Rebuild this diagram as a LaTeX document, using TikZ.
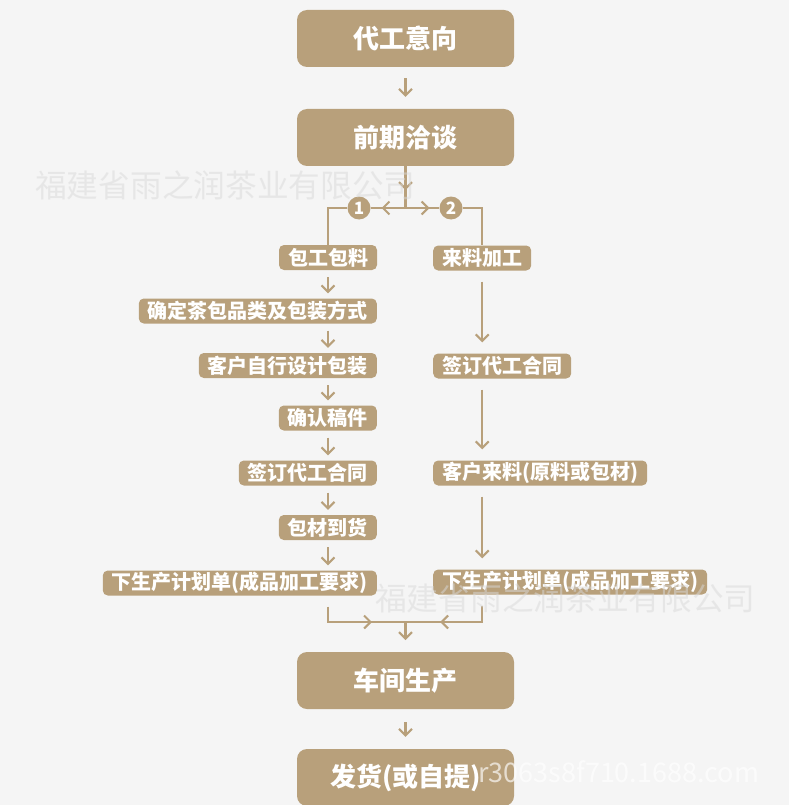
\documentclass[tikz,border=0pt]{standalone}
\usepackage{fontspec}
\setmainfont{Noto Sans CJK SC}
\usetikzlibrary{arrows.meta}

\definecolor{teabrown}{HTML}{B8A07B}
\definecolor{paper}{HTML}{F5F5F5}

\tikzset{
  bigbox/.style={fill=teabrown, rounded corners=10pt, minimum width=217pt,
    minimum height=57pt, inner sep=0pt, text=white,
    font=\bfseries\fontsize{26}{26}\selectfont},
  stepbox/.style={fill=teabrown, rounded corners=5pt, minimum height=25pt,
    inner xsep=9pt, inner ysep=0pt, text=white,
    font=\bfseries\fontsize{20}{20}\selectfont},
  numdot/.style={circle, fill=teabrown, minimum size=23pt, inner sep=0pt,
    text=white, font=\bfseries\fontsize{17}{17}\selectfont},
  flow/.style={draw=teabrown, line width=2.1pt},
  tip/.style={flow, -{Straight Barb[length=6.5pt, width=13pt]}},
  watermark/.style={text=gray!30, text opacity=0.5, inner sep=0pt,
    font=\fontsize{31.7}{31.7}\selectfont}
}

\begin{document}
\begin{tikzpicture}[x=1pt, y=-1pt]
  \useasboundingbox (0,0) rectangle (789,805);
  \fill[paper] (0,0) rectangle (789,805);

  % main steps
  \node[bigbox] (intent) at (405.5,38.5) {代工意向};
  \node[bigbox] (talk) at (405.5,137.5) {前期洽谈};
  \draw[tip, shorten <=11pt, shorten >=12pt] (intent) -- (talk);

  % split into the two ways
  \coordinate (split) at (405.5,208);
  \draw[flow] (talk.south) -- (split);
  \draw[tip] (talk.south) -- ++(0,24);
  \node[numdot] (n1) at (359,208) {1};
  \node[numdot] (n2) at (451,208) {2};
  \draw[flow] (n1) -- (n2);
  \draw[tip] (split) -- ++(-24,0);
  \draw[tip] (split) -- ++(24,0);

  % way 1
  \node[stepbox] (L1) at (328,257.5) {包工包料};
  \node[stepbox, anchor=east] (L2) at (377,311) {确定茶包品类及包装方式};
  \node[stepbox, anchor=east] (L3) at (377,365.5) {客户自行设计包装};
  \node[stepbox, anchor=east] (L4) at (377,418) {确认稿件};
  \node[stepbox, anchor=east] (L5) at (377,473) {签订代工合同};
  \node[stepbox, anchor=east] (L6) at (377,527.5) {包材到货};
  \node[stepbox, anchor=east] (L7) at (377,583) {下生产计划单(成品加工要求)};
  \draw[flow] (n1) -| (L1.north);
  \foreach \a/\b in {L1/L2, L2/L3, L3/L4, L4/L5, L5/L6, L6/L7}
    \draw[tip, shorten <=7pt, shorten >=5pt] (\a.south -| L1) -- (\b.north -| L1);

  % way 2
  \node[stepbox, anchor=west] (R1) at (433,258) {来料加工};
  \node[stepbox, anchor=west] (R2) at (433,366) {签订代工合同};
  \node[stepbox, anchor=west] (R3) at (433,473) {客户来料(原料或包材)};
  \node[stepbox, anchor=west] (R4) at (433,582) {下生产计划单(成品加工要求)};
  \draw[flow] (n2) -| (R1.north);
  \foreach \a/\b in {R1/R2, R2/R3, R3/R4}
    \draw[tip, shorten <=11pt, shorten >=11pt] (\a.south -| R1) -- (\b.north -| R1);

  % join again
  \coordinate (merge) at (405.5,622);
  \draw[flow, shorten <=11pt] (L7.south -| L1) |- (merge);
  \draw[flow, shorten <=11pt] (R4.south -| R1) |- (merge);
  \draw[tip] (L1 |- merge) -- ++(44,0);
  \draw[tip] (R1 |- merge) -- ++(-42,0);
  \draw[tip] (merge) -- ++(0,18);

  \node[bigbox] (shop) at (405.5,680.5) {车间生产};
  \node[bigbox] (ship) at (405.5,777.5) {发货(或自提)};
  \draw[tip, shorten <=13pt, shorten >=12pt] (shop) -- (ship);

  % watermarks
  \node[watermark, anchor=west] (wm1) at (35,185) {福建省雨之润茶业有限公司};
  \node[watermark, anchor=west] (wm2) at (375,598) {福建省雨之润茶业有限公司};
  \node[watermark, anchor=west, text=white, text opacity=0.65,
    font=\fontsize{27}{27}\selectfont] (wm3) at (478,772) {r3063s8f710.1688.com};
\end{tikzpicture}
\end{document}
